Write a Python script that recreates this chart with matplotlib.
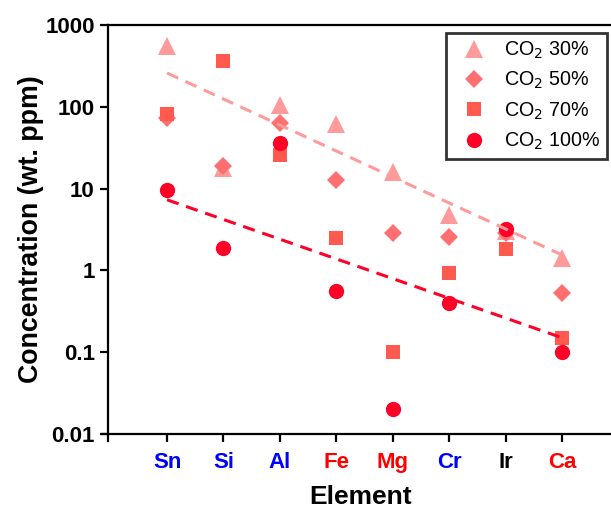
import matplotlib
matplotlib.use('Agg')
import matplotlib.pyplot as plt
import numpy as np

plt.rcParams['font.family'] = ['Liberation Sans', 'DejaVu Sans']

elements = ['Sn', 'Si', 'Al', 'Fe', 'Mg', 'Cr', 'Ir', 'Ca']
label_colors = ['#0000FF', '#0000FF', '#0000FF', '#FF0000', '#FF0000', '#0000FF', '#000000', '#FF0000']

co2_30 = [550, 18, 105, 62, 16, 4.75, 3.0, 1.41]
co2_50 = [73, 19, 63, 12.7, 2.9, 2.58, 2.9, 0.53]
co2_70 = [82, 366, 26, 2.5, 0.10, 0.94, 1.81, 0.15]
co2_100 = [9.6, 1.88, 36, 0.56, 0.020, 0.40, 3.2, 0.10]

# dashed trend lines, values at Sn and Ca
trend_30 = [259, 1.54]
trend_100 = [7.3, 0.15]

fig = plt.figure(figsize=(6.11, 5.08), dpi=100)
ax = fig.add_axes([108/611, 74/508, 505/611, 409/508])

x = np.arange(len(elements))
series = [
    (co2_30, '^', '#FF9A9A', 13.5, 'CO$_2$ 30%'),
    (co2_50, 'D', '#FF6F6F', 9.5, 'CO$_2$ 50%'),
    (co2_70, 's', '#FF5A4D', 10.5, 'CO$_2$ 70%'),
    (co2_100, 'o', '#FF0026', 11, 'CO$_2$ 100%'),
]
for vals, mk, col, ms, lab in series:
    ax.plot(x, vals, linestyle='none', marker=mk, color=col, markersize=ms,
            markeredgewidth=0, label=lab)

ax.plot([x[0], x[-1]], trend_30, color='#FF9A9A', lw=2.2, dashes=(4, 2.6), zorder=3)
ax.plot([x[0], x[-1]], trend_100, color='#FF0026', lw=2.2, dashes=(4, 2.6), zorder=3)

ax.set_yscale('log')
ax.set_ylim(0.01, 1000)
ax.set_xlim(-1.046, 7.9)
ax.set_yticks([0.01, 0.1, 1, 10, 100, 1000])
ax.set_yticklabels(['0.01', '0.1', '1', '10', '100', '1000'])
ax.minorticks_off()
ax.set_xticks(x)
ax.set_xticklabels(elements)
for t, c in zip(ax.get_xticklabels(), label_colors):
    t.set_color(c)

ax.tick_params(axis='both', direction='out', length=6, width=1.6, labelsize=16)
ax.tick_params(axis='x', pad=7)
for t in ax.get_xticklabels() + ax.get_yticklabels():
    t.set_fontweight('bold')
for s in ax.spines.values():
    s.set_linewidth(1.6)
# axes cross slightly at the origin corner
ax.spines['left'].set_bounds(0.0082, 1000)
ax.spines['bottom'].set_bounds(-1.152, 7.9)

ax.set_xlabel('Element', fontsize=19, fontweight='bold', labelpad=8.5)
ax.set_ylabel('Concentration (wt. ppm)', fontsize=19.3, fontweight='bold', labelpad=1)

leg = ax.legend(loc='upper right', bbox_to_anchor=(607/611, 475/508),
                bbox_transform=fig.transFigure, borderaxespad=0, fontsize=14.2,
                frameon=True, fancybox=False, edgecolor='black',
                labelspacing=0.45, handlelength=2.1, handletextpad=0.45, borderpad=0.35)
leg.get_frame().set_linewidth(2)

fig.savefig('out.png', dpi=100)
